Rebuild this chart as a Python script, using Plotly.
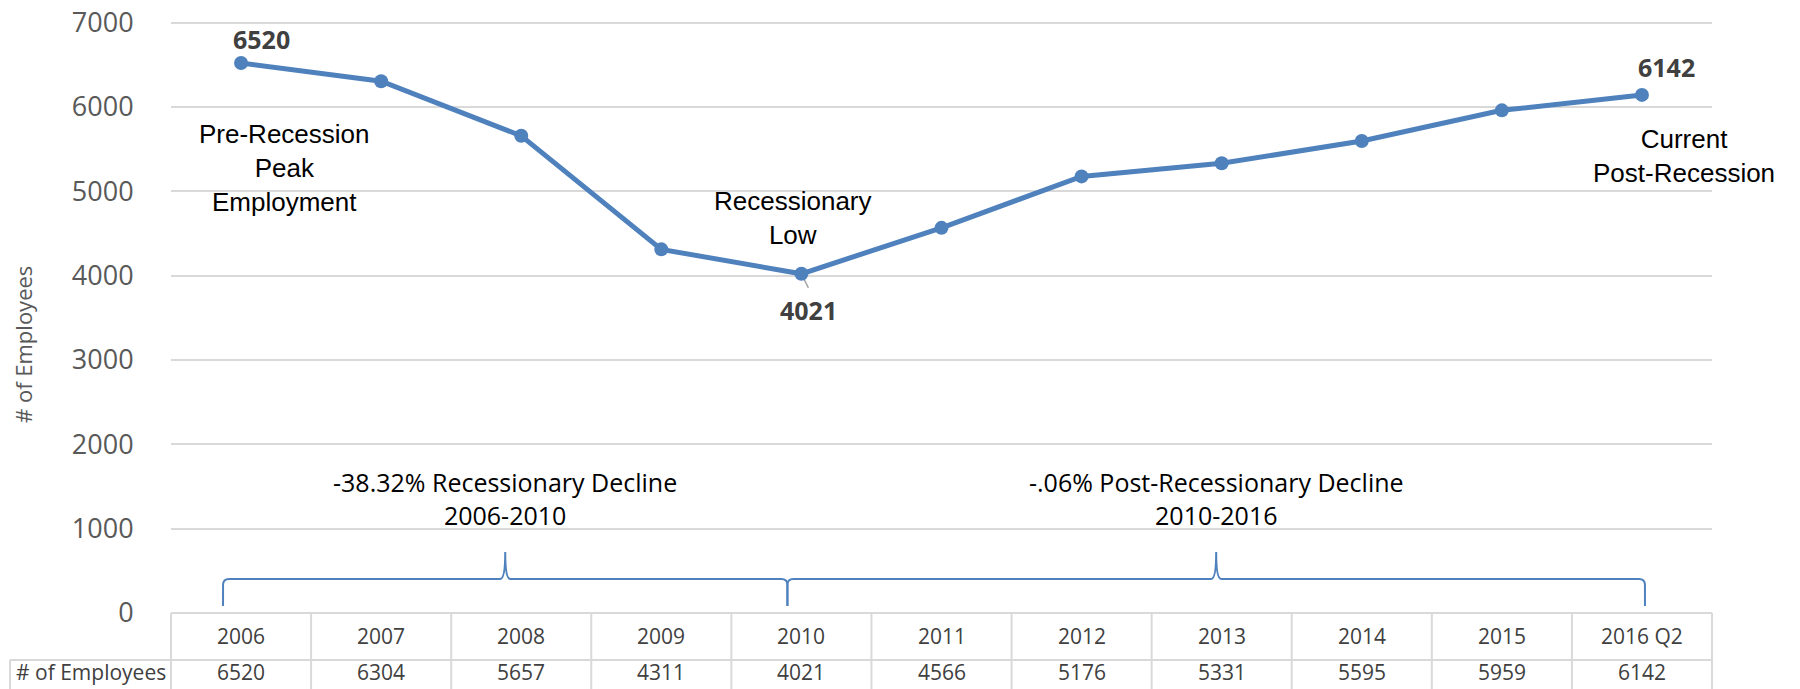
import plotly.graph_objects as go

# ---------------- data ----------------
years = ["2006", "2007", "2008", "2009", "2010", "2011", "2012", "2013", "2014", "2015", "2016 Q2"]
employees = [6520, 6304, 5657, 4311, 4021, 4566, 5176, 5331, 5595, 5959, 6142]
row_label = "# of Employees"
y_ticks = [0, 1000, 2000, 3000, 4000, 5000, 6000, 7000]
axis_title = "# of Employees"

# labelled points: (index, xshift, yshift)
labelled = [(0, 20, 24), (4, 7, -36), (10, 25, 28)]

callouts = [
    ("Pre-Recession<br>Peak<br>Employment", 284, 168),
    ("Recessionary<br>Low", 793, 218),
    ("Current<br>Post-Recession", 1684, 156),
]

periods = [
    ("-38.32% Recessionary Decline<br>2006-2010", 0, 4),
    ("-.06% Post-Recessionary Decline<br>2010-2016", 4, 10),
]

# ---------------- geometry (reference pixel coordinates) ----------------
OFF = 8                       # page body margin
W, H = 1800 - OFF, 689 - OFF
PL, PR, PB = 171, 1712, 613   # plot area in reference pixels
PT_TOP = 20                   # top of plotting area (slightly above the 7000 grid line)
YMAX = 7030
L, T = PL - OFF, PT_TOP - OFF
R = W - (PR - OFF)
B = H - (PB - OFF)
PW, PH = PR - PL, PB - PT_TOP
N = len(years)
CW = PW / N

def px_x(px):
    return (px - PL) / PW

def px_y(py):
    return (PB - py) / PH

def cat_px(i):
    return PL + (i + 0.5) * CW

BLUE = "#4F81BD"
GRID = "#D9D9D9"

fig = go.Figure()
fig.add_trace(go.Scatter(
    x=list(range(N)), y=employees, mode="lines+markers",
    line=dict(color=BLUE, width=5),
    marker=dict(color=BLUE, size=14),
    hoverinfo="skip", cliponaxis=False,
))

shapes = []
annotations = []

# leader line for 4021
shapes.append(dict(type="line", xref="x", yref="y", xsizemode="pixel", ysizemode="pixel",
                   xanchor=4, yanchor=employees[4], x0=0, x1=7, y0=0, y1=-14,
                   line=dict(color="#A6A6A6", width=1.5), layer="below"))

# data labels
for i, dx, dy in labelled:
    annotations.append(dict(x=i, y=employees[i], xref="x", yref="y",
                            text=f"<b>{employees[i]}</b>", showarrow=False,
                            xshift=dx, yshift=dy,
                            font=dict(family="Open Sans", size=25, color="#404040")))

# callout texts
for txt, cx, cy in callouts:
    annotations.append(dict(x=px_x(cx), y=px_y(cy), xref="paper", yref="paper",
                            text=txt, showarrow=False, xanchor="center", yanchor="middle",
                            font=dict(family="Liberation Sans, Arial", size=26, color="#000000")))

# braces + period texts
def brace_path(x0, xm, x1, yb=606, yl=579, yt=552, r=6, c=5):
    pts = [
        ("M", [(x0, yb)]),
        ("L", [(x0, yl + r)]),
        ("Q", [(x0, yl), (x0 + r, yl)]),
        ("L", [(xm - c, yl)]),
        ("Q", [(xm, yl), (xm, yt)]),
        ("Q", [(xm, yl), (xm + c, yl)]),
        ("L", [(x1 - r, yl)]),
        ("Q", [(x1, yl), (x1, yl + r)]),
        ("L", [(x1, yb)]),
    ]
    s = ""
    for cmd, ps in pts:
        s += cmd + " " + " ".join(f"{px_x(a):.5f},{px_y(b):.5f}" for a, b in ps) + " "
    return s.strip()

brace_ends = {0: cat_px(0) - 18, 4: cat_px(4) - 14, 10: cat_px(10) + 3}
for txt, a, b in periods:
    x0, x1 = brace_ends[a], brace_ends[b]
    xm = (x0 + x1) / 2
    shapes.append(dict(type="path", xref="paper", yref="paper", path=brace_path(x0, xm, x1),
                       line=dict(color=BLUE, width=2)))
    annotations.append(dict(x=px_x(xm), y=px_y(498), xref="paper", yref="paper",
                            text=txt, showarrow=False, xanchor="center", yanchor="middle",
                            font=dict(family="Open Sans", size=25, color="#000000")))

# data table below the chart
top, mid, bot = 613, 660, 700
lab_left = 10
tl = dict(color=GRID, width=2)
shapes.append(dict(type="line", xref="paper", yref="paper", x0=px_x(PL), x1=px_x(PR),
                   y0=px_y(top), y1=px_y(top), line=tl))
shapes.append(dict(type="line", xref="paper", yref="paper", x0=px_x(lab_left), x1=px_x(PR),
                   y0=px_y(mid), y1=px_y(mid), line=tl))
for k in range(N + 1):
    xx = PL + k * CW
    shapes.append(dict(type="line", xref="paper", yref="paper", x0=px_x(xx), x1=px_x(xx),
                       y0=px_y(top), y1=px_y(bot), line=tl))
shapes.append(dict(type="line", xref="paper", yref="paper", x0=px_x(lab_left), x1=px_x(lab_left),
                   y0=px_y(mid), y1=px_y(bot), line=tl))

tfont = dict(family="Open Sans", size=21, color="#404040")
for i, (yr, v) in enumerate(zip(years, employees)):
    annotations.append(dict(x=px_x(cat_px(i)), y=px_y(636), xref="paper", yref="paper",
                            text=yr, showarrow=False, font=tfont, xanchor="center", yanchor="middle"))
    annotations.append(dict(x=px_x(cat_px(i)), y=px_y(672), xref="paper", yref="paper",
                            text=str(v), showarrow=False, font=tfont, xanchor="center", yanchor="middle"))
annotations.append(dict(x=px_x((lab_left + PL) / 2), y=px_y(672), xref="paper", yref="paper",
                        text=row_label, showarrow=False, font=tfont, xanchor="center", yanchor="middle"))

# y axis title
annotations.append(dict(x=px_x(23), y=px_y(345), xref="paper", yref="paper", text=axis_title,
                        textangle=-90, showarrow=False, xanchor="center", yanchor="middle",
                        font=dict(family="Open Sans", size=22, color="#595959")))

fig.update_layout(
    width=W, height=H,
    margin=dict(l=L, r=R, t=T, b=B, pad=0, autoexpand=False),
    paper_bgcolor="white", plot_bgcolor="white",
    showlegend=False,
    shapes=shapes, annotations=annotations,
    xaxis=dict(range=[-0.5, N - 0.5], showticklabels=False, showgrid=False,
               zeroline=False, showline=False, ticks=""),
    yaxis=dict(range=[0, YMAX], tickvals=y_ticks, showgrid=True, gridcolor=GRID, gridwidth=1.5,
               zeroline=False, showline=False, ticks="outside", ticklen=31,
               tickcolor="rgba(0,0,0,0)", ticklabeloverflow="allow",
               tickfont=dict(family="Open Sans", size=27, color="#595959")),
)

fig.write_html("out.html")
